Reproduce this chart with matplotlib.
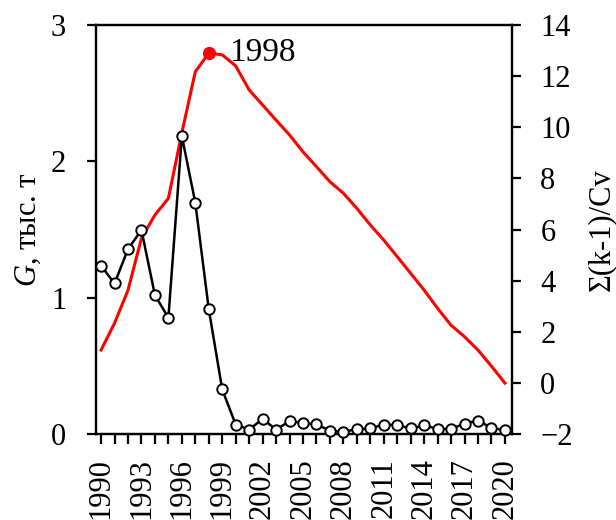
import matplotlib
matplotlib.use("Agg")
import matplotlib.pyplot as plt
from matplotlib.ticker import MultipleLocator, FixedLocator

plt.rcParams["font.family"] = "Liberation Serif"
plt.rcParams["mathtext.fontset"] = "custom"
plt.rcParams["mathtext.rm"] = "Liberation Serif"
plt.rcParams["mathtext.it"] = "Liberation Serif:italic"

# Annual catch, thousand tonnes
years = list(range(1990, 2021))
catch = [1.235, 1.105, 1.357, 1.497, 1.02, 0.853, 2.186, 1.697, 0.917, 0.328,
         0.071, 0.034, 0.112, 0.034, 0.095, 0.083, 0.073, 0.025, 0.017, 0.037,
         0.042, 0.071, 0.066, 0.042, 0.064, 0.039, 0.039, 0.078, 0.100, 0.046,
         0.029]

# Cumulative deviation curve, sum(k-1)/Cv
cumdev = [1.29, 2.34, 3.63, 5.66, 6.57, 7.22, 9.78, 12.17, 12.9, 12.83,
          12.4, 11.46, 10.87, 10.28, 9.70, 9.04, 8.46, 7.87, 7.42, 6.83,
          6.18, 5.59, 4.94, 4.29, 3.63, 2.92, 2.26, 1.81, 1.29, 0.66,
          0.0]

peak_year = 1998
x_label_years = list(range(1990, 2021, 3))

fig = plt.figure(figsize=(6.16, 5.2), dpi=100)
ax = fig.add_axes([0.156, 0.165, 0.675, 0.787])
ax2 = ax.twinx()

# catch series on the left axis, kept above the curve
ax.set_zorder(ax2.get_zorder() + 1)
ax.patch.set_visible(False)

ax2.plot(years, cumdev, color="#ff0000", lw=2.2, zorder=2)
pi = years.index(peak_year)
ax2.plot([years[pi]], [cumdev[pi]], "o", color="#ff0000", ms=8.5, zorder=3)
ax2.annotate(str(peak_year), (years[pi], cumdev[pi]), xytext=(15, 0),
             textcoords="offset points", ha="left", va="center", fontsize=24)

ax.plot(years, catch, color="black", lw=1.8, marker="o", ms=7.5,
        mfc="white", mec="black", mew=1.4, clip_on=False, zorder=3)

ax.set_xlim(1989.63, 2020.52)
ax.set_ylim(0, 3)
ax2.set_ylim(-2, 14)

ax.xaxis.set_major_locator(FixedLocator(x_label_years))
ax.xaxis.set_minor_locator(MultipleLocator(1))
ax.set_xticklabels([str(y) for y in x_label_years], rotation=90)
ax.yaxis.set_major_locator(MultipleLocator(1))
ax2.yaxis.set_major_locator(MultipleLocator(2))

for a in (ax, ax2):
    for s in a.spines.values():
        s.set_linewidth(1.6)
    a.tick_params(which="both", direction="out", width=1.6, labelsize=22)

ax.tick_params(axis="x", which="both", length=7, pad=10)
ax.tick_params(axis="y", length=6.5, pad=15)
ax2.tick_params(axis="y", length=6.5, pad=14)

ax.set_ylabel(r"$G$, тыс. т", fontsize=22, labelpad=6)
ax2.set_ylabel("Σ(k-1)/Cv", fontsize=22, labelpad=10)

fig.savefig("out.png", dpi=100)
